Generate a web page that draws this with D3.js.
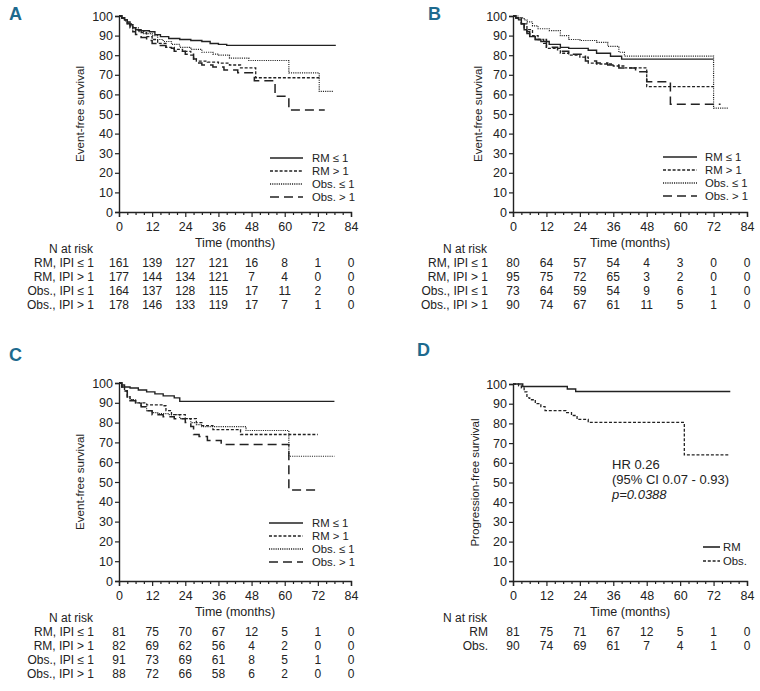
<!DOCTYPE html>
<html><head><meta charset="utf-8">
<script src="https://cdn.jsdelivr.net/npm/d3@7/dist/d3.min.js"></script>
<style>
body{margin:0;background:#fff;}
svg{display:block;font-family:"Liberation Sans",Arial,Helvetica,sans-serif;}
</style></head>
<body>
<svg id="chart" width="760" height="691"></svg>
<script>
// ---------- shared ----------
const monthTicks = [0, 12, 24, 36, 48, 60, 72, 84];
const survTicks = [0, 10, 20, 30, 40, 50, 60, 70, 80, 90, 100];
const ipiGroups = ["RM \u2264 1", "RM > 1", "Obs. \u2264 1", "Obs. > 1"];
const ipiRiskLabels = ["RM, IPI \u2264 1", "RM, IPI > 1", "Obs., IPI \u2264 1", "Obs., IPI > 1"];
const armGroups = ["RM", "Obs."];
const armRiskLabels = ["RM", "Obs."];

// ---------- panel A ----------
const aRM1 = [[0,100],[1,99],[2,98],[3,97],[4,95.5],[5,94],[6,93],[8,92.5],[11,92],[13,90.5],[15,89.5],[18,88.5],[22,88],[26,87.5],[30,87],[33,86],[36,85.5],[39,85],[78.5,85]];
const aRM2 = [[0,100],[1,99],[2,98],[3,96.5],[4,95],[5,93.5],[6,92.5],[8,91.5],[10,89.5],[12,88],[14,86],[17,84],[20,83],[23,82],[26,80],[27,78],[28,77],[32,76.5],[36,76],[40,75],[44,73.5],[49.5,68.5],[72.5,68.5]];
const aObs1 = [[0,100],[1,99],[2,97.5],[3,96],[5,94],[7,92],[9,91],[12,90],[14,88],[16,87],[19,85.5],[22,84],[26,83],[30,81.5],[34,80.5],[36,80],[40,78.5],[47,77.3],[61.5,71],[72.5,61.5],[77.5,61.5]];
const aObs2 = [[0,100],[1,99],[2,97.5],[3,96],[4,94],[5,92],[6,90.5],[8,89],[10,87.5],[12,86],[14,85],[17,83.5],[20,82],[24,80.5],[27,78],[28,76],[30,75],[34,74],[38,72.5],[43,71],[49,67],[56.5,59],[61.5,52],[74.5,52]];
const aRisk = [[161,139,127,121,16,8,1,0],[177,144,134,121,7,4,0,0],[164,137,128,115,17,11,2,0],[178,146,133,119,17,7,1,0]];

// ---------- panel B ----------
const bRM1 = [[0,100],[1,99],[2,98],[3,96],[4,93],[5,91],[6,89.5],[8,88],[10,87],[13,85.5],[17,84],[20,83.5],[27,82.5],[30,81],[35,79.5],[39,78],[72,78]];
const bRM2 = [[0,100],[1,99],[3,96],[5,93],[7,90],[9,88],[11,86],[12,83.5],[17,81],[20,80],[24,79],[27,76],[30,75.5],[36,74.5],[40,73.5],[48,64],[72,64]];
const bObs1 = [[0,100],[2,99],[4,98],[5,97],[7,95],[9,93.5],[13,92.5],[17,90],[20,88],[24,87.5],[30,86.5],[34,84.5],[38,81.5],[40,79.5],[72,53],[77.5,53]];
const bObs2 = [[0,100],[1,99],[2,97.5],[3,96],[4,94],[5,92],[6,90],[8,88],[12,84],[16,82],[20,80.5],[26,77],[30,76],[34,75],[38,73.5],[44,71.5],[48,66.5],[56.5,55],[74.5,55]];
const bRisk = [[80,64,57,54,4,3,0,0],[95,75,72,65,3,2,0,0],[73,64,59,54,9,6,1,0],[90,74,67,61,11,5,1,0]];

// ---------- panel C ----------
const cRM1 = [[0,100],[1,99],[2,98],[4,97.5],[7,96.5],[10,95.5],[13,94.5],[16,93.5],[20,92.5],[22,90.7],[78,90.7]];
const cRM2 = [[0,100],[1,98],[2,96],[3,93],[4,91.5],[6,90],[10,89],[16,88.5],[17,86],[19,84],[24,82],[28,80],[30,78.5],[34,76.5],[44,74],[72,74]];
const cObs1 = [[0,100],[1,98],[2,96],[3,93],[4,91.5],[6,90],[8,88],[10,86],[12,85],[14,84.5],[18,84],[22,82],[26,80],[28,79],[30,78],[46,76],[61.5,63],[78,63]];
const cObs2 = [[0,100],[1,98],[2,96],[3,93],[4,91],[6,89.5],[8,88],[10,86],[12,84],[16,83],[20,82],[24,80],[26,78],[27,74],[29,73],[32,71],[37,69],[61.5,46],[72,46]];
const cRisk = [[81,75,70,67,12,5,1,0],[82,69,62,56,4,2,0,0],[91,73,69,61,8,5,1,0],[88,72,66,58,6,2,0,0]];

// ---------- panel D ----------
const dRM = [[0,100],[3.5,98.7],[19.5,97.5],[22.5,96.2],[78,96.2]];
const dObs = [[0,100],[2,99],[3,98],[4,96],[5,93],[6,92],[8,90],[10,88.5],[11.5,86.5],[19,85.5],[21,84],[23,82],[27,80.5],[61.5,64],[77.5,64]];
const dRisk = [[81,75,71,67,12,5,1,0],[90,74,69,61,7,4,1,0]];
const dNote = ["HR 0.26", "(95% CI 0.07 - 0.93)", "p=0.0388"];

// ---------- drawing ----------
const svg = d3.select("#chart");
const INK = "#222";
const styles = {
  solid: {dash: null, w: 1.4},
  short: {dash: "3,1.8", w: 1.3},
  dot: {dash: "1.1,1.1", w: 1.2},
  long: {dash: "9,5", w: 1.5}
};

function panel(cfg) {
  const g = svg.append("g");
  const x = d3.scaleLinear().domain([0, 84]).range([cfg.x0, cfg.x1]);
  const y = d3.scaleLinear().domain([0, 100]).range([cfg.y0, cfg.y1]);

  g.append("text").attr("x", cfg.lx).attr("y", cfg.ly).attr("dy", "0.36em")
    .attr("font-size", 18).attr("font-weight", "bold").attr("fill", "#1d6a8e")
    .attr("font-family", "'Liberation Sans Narrow','Liberation Sans',Arial,sans-serif")
    .text(cfg.letter);

  const line = d3.line().x(d => x(d[0])).y(d => y(d[1])).curve(d3.curveStepAfter);
  cfg.curves.forEach((c, i) => {
    const st = styles[cfg.styles[i]];
    g.append("path").datum(c).attr("d", line).attr("fill", "none")
      .attr("stroke", INK).attr("stroke-width", st.w)
      .attr("stroke-dasharray", st.dash);
  });

  const ya = g.append("g").attr("transform", `translate(${cfg.x0},0)`)
    .call(d3.axisLeft(y).tickValues(survTicks).tickSize(4).tickPadding(2));
  const xm = g.append("g").attr("transform", `translate(0,${cfg.y0})`)
    .call(d3.axisBottom(x).tickValues(d3.range(0, 85, 3).filter(v => v % 12)).tickSize(3).tickFormat(""));
  const xa = g.append("g").attr("transform", `translate(0,${cfg.y0})`)
    .call(d3.axisBottom(x).tickValues(monthTicks).tickSize(5).tickPadding(5));
  [ya, xm, xa].forEach(a => {
    a.selectAll("path").attr("stroke", INK).attr("stroke-width", 1.4);
    a.selectAll("line").attr("stroke", INK).attr("stroke-width", 1.2);
    a.selectAll("text").attr("font-size", 12.5).attr("fill", INK).attr("font-family", null);
  });
  xm.select("path").remove();

  g.append("text").attr("transform", `translate(${cfg.yTitleX},${(cfg.y0 + cfg.y1) / 2}) rotate(-90)`)
    .attr("text-anchor", "middle").attr("dy", "0.35em").attr("font-size", 11.6).attr("fill", INK)
    .text(cfg.yTitle);

  g.append("text").attr("x", (cfg.x0 + cfg.x1) / 2).attr("y", cfg.y0 + 31).attr("dy", "0.35em")
    .attr("text-anchor", "middle").attr("font-size", 12.5).attr("fill", INK).text("Time (months)");

  g.append("text").attr("x", cfg.x0 - 26).attr("y", cfg.y0 + 37).attr("dy", "0.35em")
    .attr("text-anchor", "end").attr("font-size", 12).attr("fill", INK).text("N at risk");
  cfg.risk.forEach((row, i) => {
    const ry = cfg.y0 + 51 + 14 * i;
    g.append("text").attr("x", cfg.x0 - 25).attr("y", ry).attr("dy", "0.35em")
      .attr("text-anchor", "end").attr("font-size", 12).attr("fill", INK).text(cfg.riskLabels[i]);
    g.selectAll(null).data(row).enter().append("text")
      .attr("x", (d, j) => x(monthTicks[j])).attr("y", ry).attr("dy", "0.35em")
      .attr("text-anchor", "middle").attr("font-size", 12).attr("fill", INK).text(d => d);
  });

  cfg.groups.forEach((name, i) => {
    const st = styles[cfg.styles[i]];
    const ly = cfg.legY + cfg.legStep * i;
    g.append("line").attr("x1", cfg.x0 + cfg.legX1).attr("x2", cfg.x0 + cfg.legX2)
      .attr("y1", ly).attr("y2", ly).attr("stroke", INK).attr("stroke-width", st.w + 0.2)
      .attr("stroke-dasharray", st.dash);
    g.append("text").attr("x", cfg.x0 + cfg.legT).attr("y", ly).attr("dy", "0.35em")
      .attr("font-size", 11.3).attr("fill", INK).text(name);
  });
  return {g, x, y};
}

panel({letter: "A", lx: 9, ly: 14, x0: 119, x1: 351, y0: 212, y1: 16,
  curves: [aRM1, aRM2, aObs1, aObs2], styles: ["solid", "short", "dot", "long"],
  groups: ipiGroups, risk: aRisk, riskLabels: ipiRiskLabels, yTitle: "Event-free survival", yTitleX: 80,
  legX1: 151, legX2: 184, legT: 193, legY: 158, legStep: 13});

panel({letter: "B", lx: 428, ly: 14, x0: 513, x1: 747, y0: 212, y1: 16,
  curves: [bRM1, bRM2, bObs1, bObs2], styles: ["solid", "short", "dot", "long"],
  groups: ipiGroups, risk: bRisk, riskLabels: ipiRiskLabels, yTitle: "Event-free survival", yTitleX: 478,
  legX1: 150, legX2: 184, legT: 192, legY: 157, legStep: 13});

panel({letter: "C", lx: 9, ly: 355, x0: 119, x1: 351, y0: 581, y1: 383,
  curves: [cRM1, cRM2, cObs1, cObs2], styles: ["solid", "short", "dot", "long"],
  groups: ipiGroups, risk: cRisk, riskLabels: ipiRiskLabels, yTitle: "Event-free survival", yTitleX: 80,
  legX1: 150, legX2: 184, legT: 193, legY: 523, legStep: 13});

const pd = panel({letter: "D", lx: 417, ly: 350, x0: 513, x1: 747, y0: 581, y1: 384,
  curves: [dRM, dObs], styles: ["solid", "short"],
  groups: armGroups, risk: dRisk, riskLabels: armRiskLabels, yTitle: "Progression-free survival", yTitleX: 475,
  legX1: 190, legX2: 207, legT: 210, legY: 547, legStep: 14});

dNote.forEach((t, i) => {
  pd.g.append("text").attr("x", 612).attr("y", 464 + 15 * i).attr("dy", "0.35em")
    .attr("font-size", 13).attr("fill", INK).attr("font-style", i === 2 ? "italic" : null).text(t);
});
</script>
</body></html>
